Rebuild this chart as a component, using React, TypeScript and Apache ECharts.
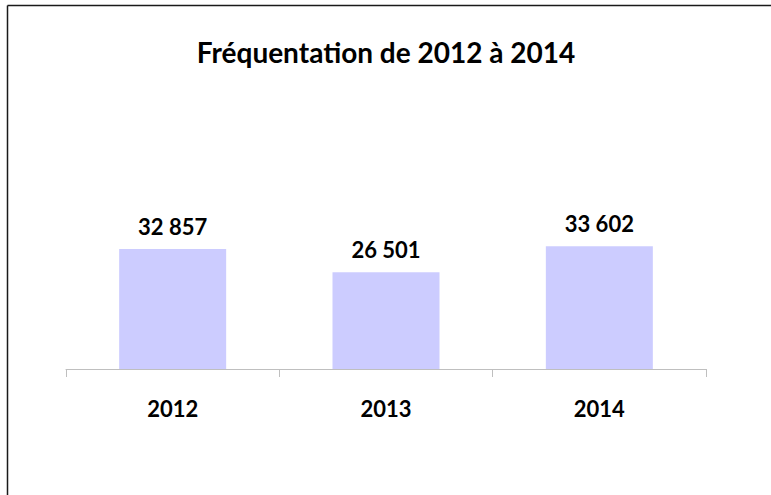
import React, { useEffect, useRef } from "react";
import * as echarts from "echarts";

const categories = ["2012", "2013", "2014"];
const visitors = [32857, 26501, 33602];
const titleText = "Fréquentation de 2012 à 2014";

function fmt(n: number): string {
  return String(n).replace(/\B(?=(\d{3})+(?!\d))/g, " ");
}

export default function App() {
  const ref = useRef<HTMLDivElement>(null);
  useEffect(() => {
    if (!ref.current) return;
    const chart = echarts.init(ref.current, null, { renderer: "svg" });
    const font = "Lato, 'Noto Sans', sans-serif";
    chart.setOption({
      animation: false,
      backgroundColor: "#ffffff",
      title: {
        text: titleText,
        left: 381,
        textAlign: "center",
        top: 33,
        textStyle: { fontFamily: font, fontWeight: "bold", fontSize: 28, color: "#000" },
      },
      graphic: [
        { type: "line", shape: { x1: 7.5, y1: 5.5, x2: 771, y2: 5.5 }, style: { stroke: "#1a1a1a", lineWidth: 1.5 } },
        { type: "line", shape: { x1: 7.5, y1: 5.5, x2: 7.5, y2: 495 }, style: { stroke: "#1a1a1a", lineWidth: 1.5 } },
      ],
      grid: { left: 66, right: 65, top: 223, bottom: 126 },
      xAxis: {
        type: "category",
        data: categories,
        axisLine: { lineStyle: { color: "#bfbfbf", width: 1 } },
        axisTick: { show: true, length: 8, alignWithLabel: false, lineStyle: { color: "#bfbfbf" } },
        axisLabel: { margin: 28, fontFamily: font, fontWeight: "bold", fontSize: 22, color: "#000" },
      },
      yAxis: {
        type: "value",
        min: 0,
        max: 40000,
        show: false,
        splitLine: { show: false },
      },
      series: [
        {
          type: "bar",
          data: visitors,
          barWidth: 107,
          itemStyle: { color: "#ccccff" },
          label: {
            show: true,
            position: "top",
            distance: 12,
            formatter: (p: any) => fmt(p.value),
            fontFamily: font,
            fontWeight: "bold",
            fontSize: 22,
            color: "#000",
          },
        },
      ],
    });
    return () => chart.dispose();
  }, []);
  return (
    <div style={{ position: "absolute", left: 0, top: 0, width: 771, height: 495 }}>
      <div ref={ref} style={{ width: 771, height: 495 }} />
    </div>
  );
}
